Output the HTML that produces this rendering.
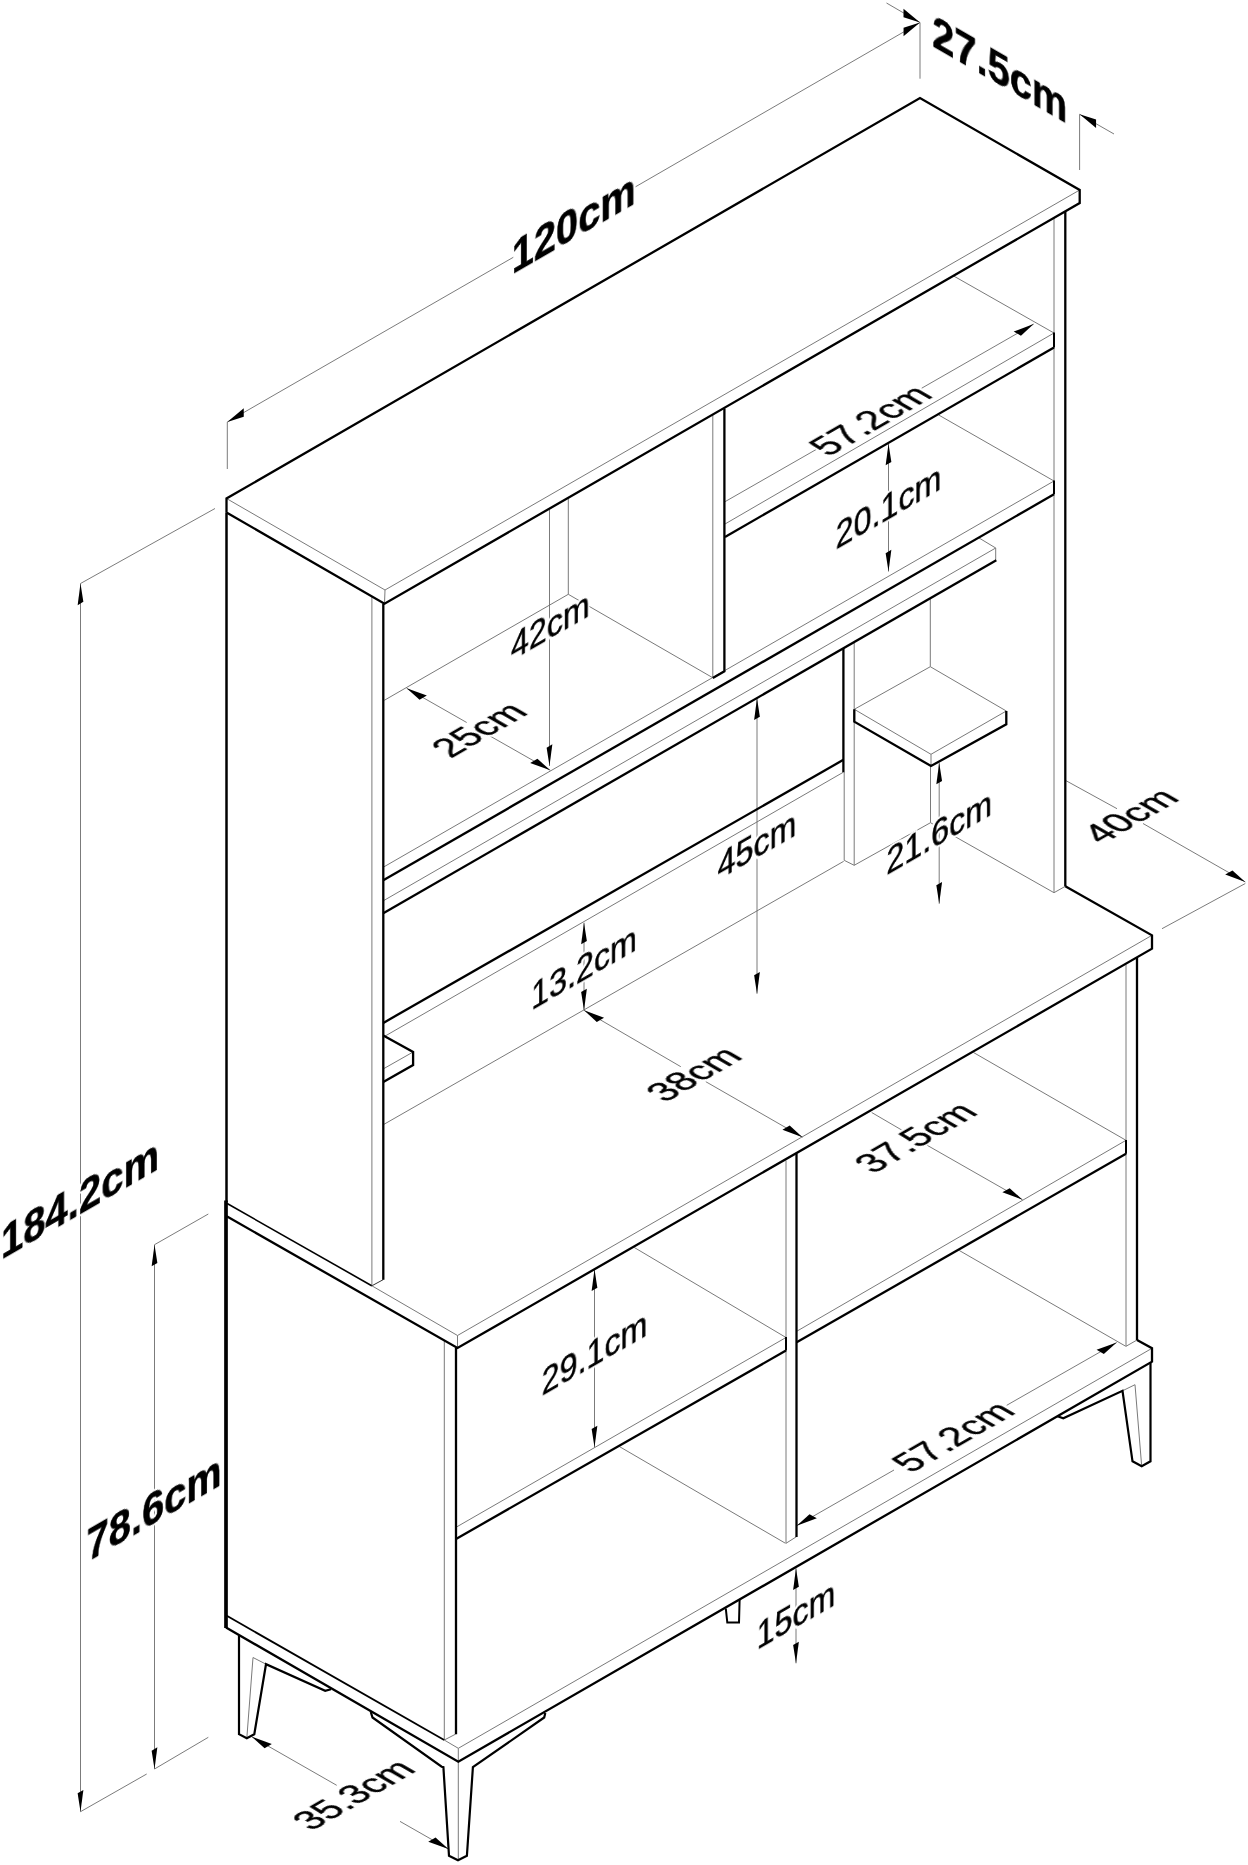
<!DOCTYPE html>
<html lang="en">
<head>
<meta charset="utf-8">
<title>Cabinet dimensions</title>
<style>
html,body{margin:0;padding:0;background:#fff;}
body{width:1248px;height:1865px;overflow:hidden;}
svg{display:block;}
.k{fill:none;stroke:#000;stroke-linejoin:miter;stroke-linecap:butt;}
.n{fill:none;stroke:#7a7a7a;stroke-width:1;}
.d{fill:none;stroke:#6c6c6c;stroke-width:0.9;}
.a{fill:#000;stroke:none;}
text{font-family:"Liberation Sans",Arial,Helvetica,sans-serif;text-anchor:middle;}
.ink text{fill:#000;stroke:#000;stroke-width:0.5px;filter:url(#halo);}
.tb{font-weight:bold;}
.tr{font-weight:normal;}
</style>
</head>
<body>
<svg width="1248" height="1865" viewBox="0 0 1248 1865">
<rect x="0" y="0" width="1248" height="1865" fill="#fff"/>
<defs>
<filter id="halo" x="-8%" y="-30%" width="116%" height="160%" color-interpolation-filters="sRGB">
<feMorphology in="SourceAlpha" operator="dilate" radius="2" result="fat"/>
<feFlood flood-color="#ffffff" result="white"/>
<feComposite in="white" in2="fat" operator="in" result="bg"/>
<feMerge><feMergeNode in="bg"/><feMergeNode in="SourceGraphic"/></feMerge>
</filter>
</defs>
<path class="n" d="M226.5 498.5 L385 590 L1079.7 190"/>
<path class="n" d="M385 590 L384.5 603.7"/>
<path class="n" d="M371.9 596.5 L371.9 1285.7"/>
<path class="n" d="M371.5 1286 L383.3 1279.6" style="stroke:#333"/>
<path class="n" d="M712.8 415 L712.8 677.7"/>
<path class="n" d="M568.3 498.5 L568.3 594.3 L712.7 677.7"/>
<path class="n" d="M568.3 594.3 L384.3 700.3"/>
<path class="n" d="M1054 218 L1054 892.7 L1065.3 886.3"/>
<path class="n" d="M953.7 276 L1054 333 L725 524"/>
<path class="n" d="M938.7 415 L1054 481 L383.3 867.2"/>
<path class="n" d="M995.7 548 L383.3 900.8"/>
<path class="n" d="M979.1 538 L995.7 548 L995.7 560.5"/>
<path class="n" d="M843.4 772.2 L383.3 1037.1"/>
<path class="n" d="M383.3 1068.9 L413.1 1052"/>
<path class="n" d="M844.2 772 L844.2 860.3 L854.2 865.3"/>
<path class="n" d="M854.2 643 L854.2 865.3 L930.5 822.7 L1054 892.7"/>
<path class="n" d="M930.3 598.5 L930.3 666.7"/>
<path class="n" d="M930.5 766 L930.5 822.7"/>
<path class="n" d="M854.3 709.3 L930.3 666.7 L1006.3 711 L931 754.3 L854.3 709.3"/>
<path class="n" d="M931 754.3 L931 766"/>
<path class="n" d="M383.3 1124.7 L843.7 861.3"/>
<path class="n" d="M371.7 1285.7 L457.5 1335.5 L1152 935.3"/>
<path class="n" d="M457.5 1335.5 L457.5 1348"/>
<path class="n" d="M444.3 1341 L444.3 1740 L455.5 1734.2"/>
<path class="n" d="M786 1160.5 L786 1543.3 L796.5 1536.7"/>
<path class="n" d="M1126 964.5 L1126 1346.3 L1137 1340"/>
<path class="n" d="M634.3 1247.5 L786 1337.5 L456 1527.3"/>
<path class="n" d="M619.3 1446.5 L785.5 1543.3"/>
<path class="n" d="M973.5 1052.5 L1126 1140.3 L796.7 1331.3"/>
<path class="n" d="M959.3 1250.5 L1125.8 1346.3"/>
<path class="n" d="M444.2 1740 L458.3 1748.3 L1152 1348.3"/>
<path class="n" d="M458.3 1748.3 L458.3 1761.7"/>
<path class="n" d="M246.8 1738.3 L253 1657.5 L266 1664.2"/>
<path class="n" d="M458.3 1761.7 L458.3 1860"/>
<path class="n" d="M1141.7 1466.3 L1135 1384.7 L1122.5 1390.8"/>
<path class="d" d="M227.3 422 L513.3 257.3"/>
<path class="d" d="M635.5 186.8 L920 22.5"/>
<path class="d" d="M227.3 422 L227.3 469"/>
<path class="d" d="M920 22.5 L920 78.7"/>
<path class="a" d="M227.3 422 L243.76 416.71 L243.76 408.31 Z"/>
<path class="a" d="M920 22.5 L903.54 36.19 L903.54 27.79 Z"/>
<path class="d" d="M886.5 3 L920 22.5"/>
<path class="d" d="M1079.6 114.3 L1114 134"/>
<path class="d" d="M1079.6 114.3 L1079.6 170"/>
<path class="a" d="M920 22.5 L903.53 17.23 L903.53 8.83 Z"/>
<path class="a" d="M1079.6 114.3 L1096.07 127.97 L1096.07 119.57 Z"/>
<path class="d" d="M80.5 583.5 L80.5 1811.7"/>
<path class="d" d="M80.5 583.5 L215 508.5"/>
<path class="d" d="M80.5 1811.7 L146.7 1774"/>
<path class="a" d="M80.5 583.5 L83.36 601.85 L77.64 605.15 Z"/>
<path class="a" d="M80.5 1811.7 L83.36 1790.05 L77.64 1793.35 Z"/>
<path class="d" d="M154.5 1244.7 L154.5 1769"/>
<path class="d" d="M154.5 1244.7 L208.3 1214"/>
<path class="d" d="M154.5 1769 L208.3 1737.3"/>
<path class="a" d="M154.5 1244.7 L157.36 1263.05 L151.64 1266.35 Z"/>
<path class="a" d="M154.5 1769 L157.36 1747.35 L151.64 1750.65 Z"/>
<path class="d" d="M549.5 509.5 L549.5 766"/>
<path class="a" d="M549.5 766 L552.36 744.35 L546.64 747.65 Z"/>
<path class="d" d="M888.5 443.7 L888.5 571.5"/>
<path class="a" d="M888.5 443.7 L891.36 462.05 L885.64 465.35 Z"/>
<path class="a" d="M888.5 571.5 L891.36 549.85 L885.64 553.15 Z"/>
<path class="d" d="M757 698.3 L757 993.7"/>
<path class="a" d="M757 698.3 L759.86 716.65 L754.14 719.95 Z"/>
<path class="a" d="M757 993.7 L759.86 972.05 L754.14 975.35 Z"/>
<path class="d" d="M939.2 762.7 L939.2 903.7"/>
<path class="a" d="M939.2 762.7 L942.06 781.05 L936.34 784.35 Z"/>
<path class="a" d="M939.2 903.7 L942.06 882.05 L936.34 885.35 Z"/>
<path class="d" d="M584 922.7 L584 1010.3"/>
<path class="a" d="M584 922.7 L586.86 941.05 L581.14 944.35 Z"/>
<path class="a" d="M584 1010.3 L586.86 988.65 L581.14 991.95 Z"/>
<path class="d" d="M594.5 1269.3 L594.5 1447.3"/>
<path class="a" d="M594.5 1269.3 L597.36 1287.65 L591.64 1290.95 Z"/>
<path class="a" d="M594.5 1447.3 L597.36 1425.65 L591.64 1428.95 Z"/>
<path class="d" d="M796 1568.3 L796 1663.3"/>
<path class="a" d="M796 1568.3 L798.86 1586.65 L793.14 1589.95 Z"/>
<path class="a" d="M796 1663.3 L798.86 1641.65 L793.14 1644.95 Z"/>
<path class="d" d="M406.7 688.3 L466.7 722.5"/>
<path class="d" d="M490 736 L550.3 770.3"/>
<path class="a" d="M406.7 688.3 L426.84 695.62 L419.56 699.82 Z"/>
<path class="a" d="M550.3 770.3 L537.44 758.78 L530.16 762.98 Z"/>
<path class="d" d="M725 501.7 L816.7 449.2"/>
<path class="d" d="M921.7 388.2 L1033.7 324"/>
<path class="a" d="M1033.7 324 L1020.95 335.71 L1013.67 331.51 Z"/>
<path class="d" d="M584 1010.3 L680.8 1066.7"/>
<path class="d" d="M705.8 1081.7 L802.5 1137.2"/>
<path class="a" d="M584 1010.3 L604.07 1017.74 L596.79 1021.94 Z"/>
<path class="a" d="M802.5 1137.2 L789.71 1125.56 L782.43 1129.76 Z"/>
<path class="d" d="M1065.3 780.3 L1117 808.7"/>
<path class="d" d="M1143 823.5 L1245.3 882"/>
<path class="d" d="M1245.3 883.5 L1162 928.7"/>
<path class="a" d="M1245.3 882 L1232.48 870.4 L1225.21 874.6 Z"/>
<path class="d" d="M871.7 1112.5 L901.7 1130"/>
<path class="d" d="M926.7 1145 L1022.5 1199.7"/>
<path class="a" d="M1022.5 1199.7 L1009.65 1188.16 L1002.38 1192.36 Z"/>
<path class="d" d="M796.7 1525.7 L894 1470"/>
<path class="d" d="M1006.7 1405.3 L1116.7 1342.5"/>
<path class="a" d="M796.7 1525.7 L816.83 1518.36 L809.55 1514.16 Z"/>
<path class="a" d="M1116.7 1342.5 L1103.85 1354.04 L1096.57 1349.84 Z"/>
<path class="d" d="M251.7 1736.7 L336.7 1785.3"/>
<path class="d" d="M400 1821.4 L448.4 1849"/>
<path class="a" d="M251.7 1736.7 L271.84 1744.02 L264.56 1748.22 Z"/>
<path class="a" d="M448.4 1849 L435.54 1837.48 L428.26 1841.68 Z"/>
<path class="k" d="M226.5 512.5 L226.5 498.5 L920 98 L1079.7 190 L1079.7 203 L384.5 603.7 L226.5 512.5" stroke-width="2.3"/>
<path class="k" d="M226.5 512.5 L226.5 1202" stroke-width="2.5"/>
<path class="k" d="M383.3 603.7 L383.3 1279.7" stroke-width="2.3"/>
<path class="k" d="M226.7 1203.3 L371.7 1285.7" stroke-width="1.6"/>
<path class="k" d="M724.4 408.5 L724.4 671.3 L712.8 677.9" stroke-width="2.3"/>
<path class="k" d="M1065.3 211.5 L1065.3 886.3" stroke-width="2.3"/>
<path class="k" d="M1054 332.5 L1054 347.5" stroke-width="2"/>
<path class="k" d="M1054 347.5 L725 537" stroke-width="2.3"/>
<path class="k" d="M1054 480.5 L1054 494.3" stroke-width="2"/>
<path class="k" d="M1054 494.3 L383.3 880.2" stroke-width="2.3"/>
<path class="k" d="M996.3 560.2 L383.3 913.2" stroke-width="2.3"/>
<path class="k" d="M843.4 648 L843.4 772.2" stroke-width="2.3"/>
<path class="k" d="M843.4 759.8 L383.3 1022.9" stroke-width="2.3"/>
<path class="k" d="M383.3 1035.4 L413.1 1052 L413.1 1065 L383.3 1082" stroke-width="2.3"/>
<path class="k" d="M854.3 709.3 L854.3 721.7 L931 766 L1006.3 724.3 L1006.3 711" stroke-width="2.3"/>
<path class="k" d="M226 1200.6 L226 1628" stroke-width="3.7"/>
<path class="k" d="M226.7 1216.3 L457.5 1348 L1152 948.7 L1152 935.3 L1065.3 886.3" stroke-width="2.3"/>
<path class="k" d="M456 1348 L456 1734.2" stroke-width="2.3"/>
<path class="k" d="M796.5 1153.5 L796.5 1537" stroke-width="2.3"/>
<path class="k" d="M1137 957.5 L1137 1340" stroke-width="2.3"/>
<path class="k" d="M786 1337 L786 1350.5" stroke-width="2"/>
<path class="k" d="M786 1350.5 L456 1539" stroke-width="2.3"/>
<path class="k" d="M1126 1140 L1126 1153.7" stroke-width="2"/>
<path class="k" d="M1126 1153.7 L796.7 1342.3" stroke-width="2.3"/>
<path class="k" d="M226.8 1615.8 L444.2 1740" stroke-width="1.8"/>
<path class="k" d="M226 1627.5 L458.3 1761.7 L1152 1361.7 L1152 1348.3 L1137 1340" stroke-width="2.3"/>
<path class="k" d="M239 1635.5 L239 1734.2 L246.8 1738.3 L254.3 1734.2 L266 1664.2 L325.2 1690.8 L331 1689.2" stroke-width="2.2"/>
<path class="k" d="M370.8 1712 L372.5 1717.5 L441.7 1766.7 L443.4 1767.2 L449 1855.8 L458 1860.3 L466.9 1855.8 L472.9 1767.2 L544.2 1717.5 L545.3 1713" stroke-width="2.2"/>
<path class="k" d="M725.8 1608.5 L727.3 1622.6 L739 1622.6 L739.6 1600" stroke-width="2"/>
<path class="k" d="M1150.5 1362.5 L1150.5 1461.3 L1141.7 1466.3 L1132.5 1461.3 L1122.5 1390.8 L1063.3 1418.3 L1057.5 1416.3" stroke-width="2.2"/>
<g class="ink">
<text class="tb" font-size="46" transform="matrix(0.866 -0.5 0 1 573.7 238.77)">120cm</text>
<text class="tb" font-size="46" transform="matrix(0.866 0.5 0 1 999.8 84.87)">27.5cm</text>
<text class="tb" font-size="46.3" transform="matrix(0.866 -0.5 0 1 80 1214.18)">184.2cm</text>
<text class="tb" font-size="46" transform="matrix(0.866 -0.5 0 1 154.2 1523.37)">78.6cm</text>
<text class="tr" font-size="37.2" transform="matrix(0.866 -0.5 0 1 550.3 638.22)">42cm</text>
<text class="tr" font-size="37.2" transform="matrix(0.866 -0.5 0 1 888.5 519.12)">20.1cm</text>
<text class="tr" font-size="37.2" transform="matrix(0.866 -0.5 0 1 757 857.52)">45cm</text>
<text class="tr" font-size="37.2" transform="matrix(0.866 -0.5 0 1 939.2 844.72)">21.6cm</text>
<text class="tr" font-size="37.2" transform="matrix(0.866 -0.5 0 1 584 980.02)">13.2cm</text>
<text class="tr" font-size="37.2" transform="matrix(0.866 -0.5 0 1 594.5 1365.42)">29.1cm</text>
<text class="tr" font-size="37.2" transform="matrix(0.866 -0.5 0 1 796 1627.32)">15cm</text>
<text class="tr" font-size="37.2" transform="matrix(0.866 -0.5 0.866 0.5 490.03 735.96)">25cm</text>
<text class="tr" font-size="37.2" transform="matrix(0.866 -0.5 0.866 0.5 881.53 426.66)">57.2cm</text>
<text class="tr" font-size="37.2" transform="matrix(0.866 -0.5 0.866 0.5 704.78 1080.41)">38cm</text>
<text class="tr" font-size="37.2" transform="matrix(0.866 -0.5 0.866 0.5 1141.48 822.06)">40cm</text>
<text class="tr" font-size="37.2" transform="matrix(0.866 -0.5 0.866 0.5 926.53 1143.86)">37.5cm</text>
<text class="tr" font-size="37.2" transform="matrix(0.866 -0.5 0.866 0.5 964.23 1443.06)">57.2cm</text>
<text class="tr" font-size="37.2" transform="matrix(0.866 -0.5 0.866 0.5 364.58 1801.01)">35.3cm</text>
</g>
</svg>
</body>
</html>
